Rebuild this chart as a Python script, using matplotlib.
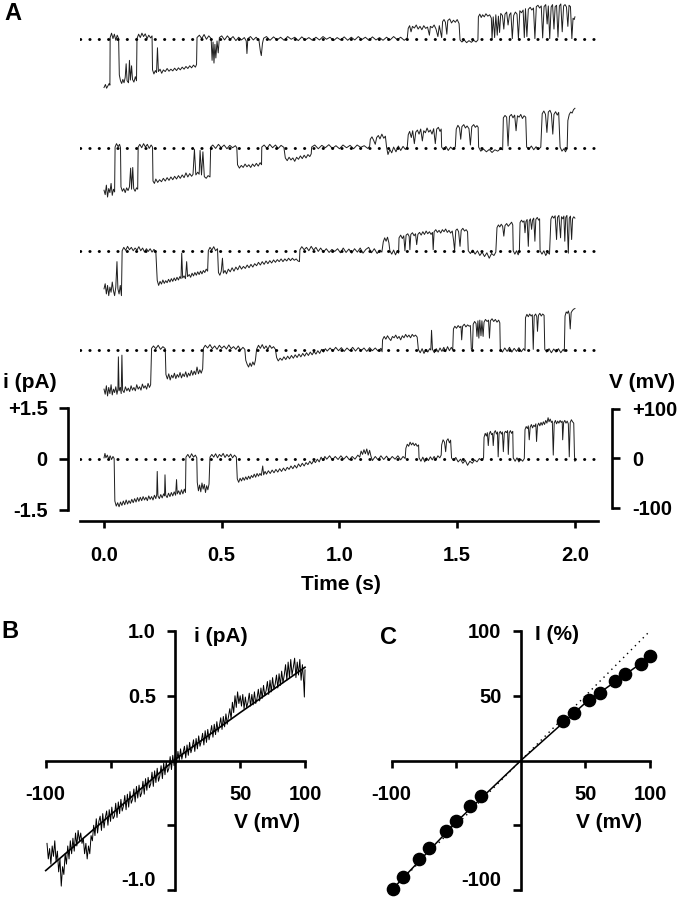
import numpy as np
import matplotlib.pyplot as plt

plt.rcParams['font.family'] = ['Liberation Sans', 'DejaVu Sans']
plt.rcParams['font.weight'] = 'bold'
plt.rcParams['font.size'] = 14.5

# ---- panel A: five single-channel records during a ramp (time s, current pA)
trace1 = [(0.000,-1.42),(0.006,-1.33),(0.011,-1.44),(0.017,-1.36),(0.022,-1.30),(0.025,-1.35),(0.026,0.05),
          (0.032,0.18),(0.038,0.02),(0.044,0.15),(0.050,-0.03),(0.056,0.12),(0.062,0.02),
          (0.065,-1.05),(0.070,-1.22),(0.075,-1.30),(0.080,-1.18),(0.085,-1.28),(0.090,-1.12),(0.094,-0.72),(0.098,-1.22),
          (0.104,-1.28),(0.108,-0.62),(0.112,-1.20),(0.117,-0.78),(0.121,-1.18),(0.127,-1.26),(0.133,-1.10),(0.138,-1.22),(0.140,0.02),
          (0.147,0.15),(0.154,0.05),(0.161,0.18),(0.168,0.08),(0.175,0.16),(0.183,0.02),(0.190,0.12),(0.198,0.04),(0.204,0.10),
          (0.206,-0.90),(0.212,-1.02),(0.218,-0.92),(0.223,-0.98),(0.227,-0.25),(0.231,-0.95),(0.238,-0.88),(0.245,-1.00),
          (0.252,-0.90),(0.260,-0.95),(0.268,-0.86),(0.276,-0.94),(0.284,-0.88),(0.292,-0.93),(0.300,-0.85),(0.308,-0.92),
          (0.316,-0.84),(0.324,-0.90),(0.332,-0.82),(0.340,-0.88),(0.348,-0.80),(0.356,-0.86),(0.364,-0.78),(0.372,-0.84),
          (0.380,-0.76),(0.388,-0.82),(0.393,-0.74),(0.395,0.05),
          (0.405,0.12),(0.415,0.02),(0.425,0.14),(0.435,0.00),(0.445,0.10),(0.455,0.02),
          (0.459,-0.62),(0.463,-0.08),(0.467,-0.70),(0.471,-0.15),(0.475,-0.55),(0.480,-0.05),(0.485,-0.40),(0.490,0.05),
          (0.500,0.10),(0.512,-0.02),(0.524,0.10),(0.536,0.00),(0.548,0.08),(0.560,-0.04),(0.572,0.06),(0.584,-0.02),
          (0.596,0.05),(0.604,-0.05),(0.607,-0.42),(0.611,0.02),
          (0.622,0.08),(0.634,-0.02),(0.646,0.06),(0.658,-0.03),(0.664,-0.35),(0.668,-0.48),(0.673,-0.12),(0.678,0.03),
          (0.690,0.08),(0.705,-0.03),(0.720,0.07),(0.735,-0.02),(0.750,0.06),(0.765,-0.03),(0.780,0.08),(0.795,0.00),
          (0.810,0.06),(0.825,-0.04),(0.840,0.07),(0.855,-0.02),(0.870,0.05),(0.885,-0.03),(0.900,0.06),(0.915,-0.02),
          (0.930,0.08),(0.945,0.00),(0.960,0.06),(0.975,-0.04),(0.990,0.05),(1.005,-0.02),(1.020,0.07),(1.035,-0.03),
          (1.050,0.06),(1.065,-0.02),(1.080,0.08),(1.095,-0.01),(1.110,0.06),(1.125,-0.03),(1.140,0.07),(1.155,-0.02),
          (1.170,0.05),(1.185,-0.03),(1.200,0.06),(1.215,-0.02),(1.230,0.08),(1.245,-0.01),(1.260,0.06),(1.275,-0.03),(1.288,0.04),
          (1.292,0.32),(1.298,0.40),(1.304,0.22),(1.310,0.38),(1.318,0.33),(1.326,0.42),(1.334,0.30),(1.342,0.38),
          (1.350,0.28),(1.358,0.40),(1.366,0.32),(1.374,0.36),(1.382,0.12),(1.386,0.38),(1.394,0.34),(1.402,0.42),
          (1.410,0.30),(1.418,0.08),(1.424,0.40),(1.430,0.18),(1.434,0.05),
          (1.438,0.52),(1.444,0.58),(1.450,0.50),(1.456,0.15),(1.460,0.55),(1.468,0.60),(1.476,0.48),(1.484,0.56),
          (1.492,0.50),(1.500,0.58),(1.508,0.46),(1.512,-0.02),
          (1.520,-0.08),(1.530,-0.02),(1.540,-0.10),(1.550,-0.04),(1.560,-0.09),(1.570,-0.03),(1.580,-0.08),(1.588,-0.02),
          (1.590,0.66),(1.596,0.74),(1.602,0.64),(1.608,0.72),(1.615,0.66),(1.622,0.75),(1.630,0.68),(1.638,0.72),
          (1.645,0.62),(1.648,0.02),(1.653,0.66),(1.659,0.05),(1.664,0.72),(1.670,0.12),(1.675,0.68),(1.680,0.20),
          (1.685,0.76),(1.692,0.70),(1.698,0.30),(1.703,0.74),(1.710,0.80),(1.716,0.42),(1.722,0.72),(1.728,0.78),
          (1.734,0.02),(1.740,0.70),(1.747,0.80),(1.754,0.74),(1.760,0.02),(1.766,0.84),(1.773,0.78),(1.780,0.86),
          (1.785,0.05),(1.790,0.90),(1.796,0.08),(1.802,0.88),(1.810,0.94),(1.817,0.86),(1.824,0.92),(1.830,0.02),
          (1.836,0.96),(1.843,1.00),(1.850,0.92),(1.857,0.98),(1.863,0.04),(1.869,0.96),(1.876,1.02),(1.882,0.45),
          (1.887,0.98),(1.893,0.02),(1.899,0.95),(1.905,1.02),(1.911,0.30),(1.916,0.96),(1.922,1.00),(1.928,0.06),
          (1.934,0.98),(1.940,1.04),(1.946,0.22),(1.952,0.98),(1.958,1.02),(1.964,0.95),(1.970,0.38),(1.975,1.00),
          (1.981,0.96),(1.987,0.02),(1.992,0.62),(1.997,0.58),(2.000,0.66)]

trace2 = [(0.000,-1.25),(0.005,-1.38),(0.010,-1.10),(0.015,-1.45),(0.020,-1.20),(0.025,-1.32),(0.030,-1.05),
          (0.035,-1.40),(0.040,-1.22),(0.045,-1.30),(0.047,0.02),
          (0.053,0.12),(0.060,0.03),(0.066,0.10),(0.070,0.00),
          (0.072,-1.15),(0.078,-1.28),(0.084,-1.20),(0.090,-1.32),(0.096,-1.18),(0.102,-1.26),(0.108,-1.15),(0.113,-0.60),
          (0.117,-1.22),(0.122,-0.58),(0.126,-1.20),(0.132,-1.28),(0.138,-1.18),(0.143,-1.22),(0.145,0.02),
          (0.152,0.10),(0.160,0.00),(0.168,0.12),(0.176,0.02),(0.184,0.10),(0.192,-0.02),(0.200,0.08),(0.206,0.02),
          (0.208,-0.98),(0.214,-1.05),(0.220,-0.92),(0.228,-1.02),(0.236,-0.94),(0.244,-1.00),(0.252,-0.90),(0.260,-0.98),
          (0.268,-0.88),(0.276,-0.96),(0.284,-0.86),(0.292,-0.94),(0.300,-0.84),(0.308,-0.92),(0.316,-0.82),(0.324,-0.90),
          (0.332,-0.80),(0.340,-0.88),(0.348,-0.74),(0.356,-0.86),(0.364,-0.76),(0.372,-0.84),(0.378,-0.78),(0.384,-0.05),
          (0.390,-0.80),(0.398,-0.72),(0.404,-0.78),(0.408,-0.08),(0.414,-0.80),(0.420,-0.12),(0.426,-0.85),(0.434,-0.90),
          (0.442,-0.82),(0.450,-0.86),(0.453,0.02),
          (0.462,0.08),(0.474,-0.02),(0.486,0.10),(0.498,0.00),(0.510,0.08),(0.522,-0.03),(0.534,0.07),(0.546,0.00),
          (0.558,0.06),(0.564,0.00),
          (0.567,-0.50),(0.575,-0.60),(0.583,-0.52),(0.591,-0.58),(0.599,-0.48),(0.607,-0.56),(0.615,-0.50),(0.623,-0.58),
          (0.631,-0.48),(0.639,-0.55),(0.647,-0.46),(0.655,-0.54),(0.663,-0.44),(0.669,-0.50),(0.670,0.02),
          (0.680,0.08),(0.692,-0.02),(0.704,0.10),(0.716,0.00),(0.728,0.08),(0.740,-0.02),(0.752,0.07),(0.764,0.01),
          (0.770,-0.30),(0.778,-0.38),(0.786,-0.28),(0.794,-0.36),(0.802,-0.30),(0.810,-0.40),(0.818,-0.28),(0.826,-0.34),
          (0.834,-0.24),(0.842,-0.32),(0.850,-0.22),(0.858,-0.30),(0.866,-0.20),(0.874,-0.26),(0.880,-0.18),(0.882,0.02),
          (0.895,0.08),(0.910,-0.03),(0.925,0.07),(0.940,0.00),(0.955,0.09),(0.970,-0.02),(0.985,0.06),(1.000,-0.03),
          (1.015,0.08),(1.030,0.00),(1.045,0.07),(1.060,-0.03),(1.075,0.08),(1.090,0.01),(1.105,0.06),(1.120,-0.02),(1.128,0.04),
          (1.131,0.25),(1.138,0.32),(1.145,0.22),(1.152,0.10),(1.158,0.30),(1.165,0.36),(1.172,0.26),(1.180,0.40),
          (1.188,0.28),(1.195,0.34),(1.200,0.02),
          (1.206,-0.20),(1.214,-0.05),(1.222,-0.15),(1.230,0.02),(1.240,-0.12),(1.250,0.05),(1.260,-0.08),(1.270,0.04),
          (1.280,-0.05),(1.288,0.03),
          (1.292,0.38),(1.298,0.48),(1.305,0.30),(1.311,0.50),(1.318,0.12),(1.324,0.46),(1.331,0.52),(1.338,0.40),
          (1.345,0.55),(1.352,0.20),(1.358,0.50),(1.365,0.44),(1.372,0.58),(1.379,0.46),(1.386,0.52),(1.393,0.40),
          (1.400,0.56),(1.407,0.12),(1.413,0.55),(1.420,0.60),(1.427,0.48),(1.432,0.55),(1.434,0.02),
          (1.442,-0.06),(1.452,0.04),(1.462,-0.08),(1.472,0.02),(1.482,-0.05),(1.492,0.03),
          (1.496,0.55),(1.503,0.66),(1.510,0.58),(1.515,0.25),(1.520,0.62),(1.528,0.68),(1.535,0.58),(1.542,0.64),
          (1.550,0.56),(1.556,0.08),(1.562,0.62),(1.570,0.68),(1.577,0.60),(1.584,0.65),(1.589,0.60),(1.591,0.02),
          (1.600,-0.10),(1.612,-0.04),(1.624,-0.12),(1.636,-0.05),(1.648,-0.14),(1.660,-0.06),(1.672,-0.10),(1.684,-0.03),(1.693,-0.06),
          (1.696,0.88),(1.703,0.95),(1.710,0.90),(1.716,0.05),(1.722,0.92),(1.730,0.98),(1.737,0.88),(1.744,0.96),
          (1.750,0.50),(1.756,0.94),(1.763,0.90),(1.770,0.98),(1.777,0.86),(1.784,0.94),(1.791,0.90),(1.795,0.02),
          (1.805,-0.04),(1.815,0.05),(1.825,-0.06),(1.835,0.03),(1.845,-0.05),(1.855,0.02),
          (1.861,1.00),(1.868,1.08),(1.875,0.98),(1.881,0.45),(1.887,1.05),(1.894,1.10),(1.900,1.00),(1.906,0.40),
          (1.911,0.98),(1.918,1.06),(1.925,0.96),(1.931,1.04),(1.937,0.02),
          (1.945,-0.10),(1.953,-0.03),(1.960,-0.12),(1.967,-0.02),
          (1.970,0.80),(1.976,0.98),(1.982,1.05),(1.988,1.02),(1.994,1.12),(2.000,1.16)]

trace3 = [(0.000,-1.10),(0.005,-0.95),(0.010,-1.25),(0.015,-1.00),(0.020,-1.30),(0.025,-1.05),(0.030,-1.20),
          (0.035,-0.90),(0.040,-1.15),(0.045,-1.30),(0.050,-1.05),(0.055,-0.30),(0.059,-1.10),(0.064,-1.25),
          (0.069,-1.00),(0.074,-1.30),(0.077,0.02),
          (0.084,0.12),(0.092,0.03),(0.100,0.15),(0.108,0.05),(0.116,0.12),(0.124,0.02),(0.132,0.10),(0.140,0.04),
          (0.148,0.14),(0.156,0.02),(0.164,0.10),(0.172,-0.02),(0.180,0.08),(0.188,0.00),(0.196,0.08),(0.204,-0.02),
          (0.212,0.06),(0.220,0.00),
          (0.226,-0.85),(0.232,-1.00),(0.238,-0.88),(0.244,-0.96),(0.250,-0.84),(0.256,-0.94),(0.262,-0.86),(0.268,-0.92),
          (0.274,-0.82),(0.280,-0.90),(0.286,-0.80),(0.292,-0.88),(0.298,-0.78),(0.304,-0.86),(0.310,-0.76),(0.316,-0.84),
          (0.322,-0.74),(0.327,-0.80),(0.330,-0.05),(0.334,-0.78),(0.340,-0.72),(0.346,-0.80),(0.351,-0.30),(0.355,-0.74),
          (0.362,-0.68),(0.368,-0.76),(0.374,-0.64),(0.380,-0.72),(0.386,-0.62),(0.392,-0.70),(0.398,-0.60),(0.404,-0.68),
          (0.410,-0.58),(0.416,-0.66),(0.422,-0.56),(0.428,-0.62),(0.434,-0.52),(0.440,-0.58),(0.443,0.02),
          (0.450,0.12),(0.458,0.04),(0.466,0.14),(0.474,0.02),(0.482,0.08),
          (0.486,-0.62),(0.492,-0.70),(0.498,-0.58),(0.503,-0.20),(0.507,-0.64),(0.514,-0.56),(0.520,-0.66),(0.528,-0.52),
          (0.536,-0.60),(0.544,-0.48),(0.552,-0.58),(0.560,-0.46),(0.568,-0.54),(0.576,-0.42),(0.584,-0.52),(0.592,-0.44),
          (0.600,-0.50),(0.608,-0.40),(0.616,-0.48),(0.624,-0.38),(0.632,-0.46),(0.640,-0.36),(0.648,-0.42),(0.656,-0.32),
          (0.664,-0.40),(0.672,-0.30),(0.680,-0.38),(0.688,-0.28),(0.696,-0.36),(0.704,-0.27),(0.712,-0.34),(0.720,-0.25),
          (0.728,-0.32),(0.736,-0.24),(0.744,-0.30),(0.752,-0.22),(0.760,-0.30),(0.768,-0.22),(0.776,-0.28),(0.784,-0.20),
          (0.792,-0.27),(0.800,-0.20),(0.808,-0.26),(0.816,-0.22),(0.824,-0.28),(0.830,-0.30),(0.832,0.05),
          (0.840,0.14),(0.850,0.05),(0.860,0.12),(0.870,0.02),(0.880,0.15),(0.890,0.04),(0.900,0.12),(0.910,0.00),
          (0.920,0.10),(0.932,-0.02),(0.944,0.08),(0.956,-0.03),(0.968,0.06),(0.980,0.00),(0.992,0.08),(1.004,-0.04),
          (1.016,0.10),(1.028,-0.03),(1.040,0.07),(1.052,-0.05),(1.064,0.08),(1.076,-0.02),(1.088,0.10),(1.100,-0.05),
          (1.112,0.06),(1.124,0.12),(1.136,-0.04),(1.148,0.08),(1.160,-0.06),(1.172,0.04),(1.180,-0.02),
          (1.186,0.28),(1.192,0.40),(1.198,0.30),(1.204,0.42),(1.210,0.25),(1.214,0.02),
          (1.222,-0.08),(1.230,0.04),(1.238,-0.10),(1.246,0.02),(1.251,-0.05),
          (1.253,0.40),(1.260,0.48),(1.267,0.38),(1.273,0.46),(1.278,0.02),(1.283,0.48),(1.290,0.52),(1.296,0.44),
          (1.299,0.05),(1.303,0.50),(1.310,0.55),(1.317,0.46),(1.323,0.52),(1.328,0.20),(1.333,0.50),(1.340,0.56),
          (1.347,0.48),(1.354,0.58),(1.361,0.50),(1.368,0.60),(1.375,0.52),(1.382,0.58),(1.389,0.50),(1.395,0.56),
          (1.398,0.05),(1.402,0.58),(1.409,0.64),(1.416,0.56),(1.423,0.62),(1.430,0.54),(1.437,0.64),(1.444,0.58),
          (1.451,0.66),(1.458,0.56),(1.465,0.62),(1.472,0.54),(1.479,0.60),(1.485,0.30),(1.489,0.02),(1.494,0.62),
          (1.500,0.66),(1.506,0.58),(1.512,0.15),(1.517,0.62),(1.524,0.68),(1.531,0.60),(1.538,0.64),(1.544,0.58),(1.547,0.02),
          (1.556,-0.06),(1.566,0.04),(1.576,-0.08),(1.586,0.02),(1.596,-0.12),(1.606,-0.02),(1.616,-0.15),(1.626,-0.04),
          (1.636,-0.20),(1.646,-0.06),(1.656,-0.12),(1.664,-0.02),
          (1.669,0.70),(1.675,0.78),(1.681,0.72),(1.687,0.80),(1.693,0.74),(1.698,0.45),(1.703,0.76),(1.710,0.82),
          (1.717,0.74),(1.724,0.80),(1.731,0.86),(1.736,0.78),(1.738,0.02),
          (1.745,-0.08),(1.752,0.02),(1.759,-0.10),(1.764,0.00),
          (1.767,0.85),(1.773,0.92),(1.779,0.86),(1.784,0.90),(1.788,0.55),(1.792,0.88),(1.797,0.94),(1.802,0.15),
          (1.806,0.90),(1.811,0.96),(1.816,0.65),(1.820,0.92),(1.825,0.98),(1.830,0.30),(1.834,0.94),(1.840,1.00),
          (1.846,0.92),(1.850,0.96),(1.852,0.02),
          (1.860,-0.08),(1.868,0.02),(1.876,-0.12),(1.884,-0.02),(1.892,-0.08),
          (1.898,0.95),(1.904,1.04),(1.910,0.98),(1.916,1.05),(1.922,0.35),(1.926,1.00),(1.932,1.06),(1.939,0.40),
          (1.943,1.02),(1.949,0.96),(1.953,1.04),(1.957,0.30),(1.961,1.00),(1.966,1.06),(1.972,-0.05),(1.976,0.98),
          (1.981,1.04),(1.986,0.35),(1.990,0.96),(1.995,1.02),(2.000,0.98)]

trace4 = [(0.000,-1.15),(0.005,-1.30),(0.010,-1.05),(0.015,-1.35),(0.020,-1.10),(0.025,-1.28),(0.030,-1.02),
          (0.035,-1.32),(0.040,-1.15),(0.045,-1.25),(0.050,-1.08),(0.055,-1.30),(0.059,-1.15),(0.061,-0.20),
          (0.064,-1.20),(0.069,-1.10),(0.073,-1.28),(0.076,-0.15),(0.079,-1.18),(0.085,-1.25),(0.091,-1.08),
          (0.097,-1.20),(0.103,-1.12),(0.109,-1.22),(0.115,-1.05),(0.121,-1.18),(0.127,-1.10),(0.133,-1.20),
          (0.139,-1.02),(0.145,-1.15),(0.151,-1.08),(0.157,-1.18),(0.163,-1.00),(0.169,-1.12),(0.175,-1.05),
          (0.181,-1.15),(0.187,-0.98),(0.193,-1.10),(0.198,-1.02),(0.202,0.05),
          (0.210,0.12),(0.220,0.04),(0.230,0.14),(0.240,0.02),(0.250,0.10),(0.260,0.04),
          (0.263,-0.72),(0.269,-0.85),(0.275,-0.70),(0.281,-0.88),(0.287,-0.74),(0.293,-0.82),(0.299,-0.68),(0.305,-0.84),
          (0.311,-0.72),(0.317,-0.80),(0.323,-0.66),(0.329,-0.82),(0.335,-0.70),(0.341,-0.78),(0.347,-0.64),(0.353,-0.80),
          (0.359,-0.68),(0.365,-0.76),(0.371,-0.60),(0.377,-0.74),(0.383,-0.62),(0.389,-0.72),(0.395,-0.50),(0.401,-0.70),
          (0.407,-0.58),(0.413,-0.68),(0.419,-0.55),(0.422,0.05),
          (0.430,0.14),(0.440,0.06),(0.450,0.16),(0.460,0.04),(0.470,0.12),(0.480,0.02),(0.490,0.14),(0.500,0.05),
          (0.510,0.12),(0.520,0.03),(0.530,0.15),(0.540,0.04),(0.550,0.10),(0.560,0.02),(0.570,0.12),(0.580,0.00),
          (0.590,0.08),(0.598,0.02),
          (0.602,-0.30),(0.608,-0.42),(0.614,-0.50),(0.620,-0.38),(0.626,-0.48),(0.632,-0.35),(0.638,-0.44),(0.643,-0.30),(0.648,0.02),
          (0.656,0.14),(0.664,0.05),(0.672,0.16),(0.680,0.04),(0.688,0.12),(0.696,0.02),(0.704,0.14),(0.712,0.05),
          (0.720,0.10),(0.728,0.02),
          (0.733,-0.22),(0.740,-0.32),(0.748,-0.24),(0.756,-0.30),(0.764,-0.20),(0.772,-0.28),(0.780,-0.18),(0.788,-0.26),
          (0.796,-0.16),(0.804,-0.24),(0.812,-0.14),(0.820,-0.22),(0.828,-0.12),(0.836,-0.20),(0.844,-0.10),(0.852,-0.18),
          (0.860,-0.08),(0.868,-0.16),(0.876,-0.06),(0.884,-0.14),(0.892,-0.04),(0.900,-0.12),(0.908,-0.02),(0.916,-0.10),
          (0.924,0.02),(0.932,-0.06),(0.940,0.04),(0.948,-0.03),
          (0.960,0.06),(0.972,-0.03),(0.984,0.08),(0.996,-0.02),(1.008,0.07),(1.020,-0.04),(1.032,0.06),(1.044,-0.02),
          (1.056,0.08),(1.068,-0.03),(1.080,0.07),(1.092,-0.02),(1.104,0.06),(1.116,-0.04),(1.128,0.07),(1.140,-0.02),
          (1.152,0.06),(1.164,-0.03),(1.176,0.05),(1.181,-0.05),
          (1.183,0.30),(1.190,0.40),(1.197,0.32),(1.204,0.42),(1.211,0.34),(1.218,0.28),(1.225,0.40),(1.232,0.36),
          (1.239,0.44),(1.246,0.34),(1.253,0.40),(1.260,0.30),(1.267,0.42),(1.274,0.36),(1.281,0.46),(1.288,0.38),
          (1.295,0.44),(1.302,0.36),(1.309,0.46),(1.316,0.40),(1.323,0.44),(1.330,0.38),(1.335,0.02),
          (1.343,-0.08),(1.351,0.04),(1.359,-0.10),(1.367,0.02),(1.375,-0.06),(1.383,0.04),(1.388,0.00),(1.391,0.58),
          (1.395,0.02),(1.403,-0.08),(1.411,0.04),(1.419,-0.06),(1.427,0.06),(1.435,-0.04),(1.443,0.08),(1.451,-0.05),
          (1.459,0.10),(1.467,-0.02),(1.475,0.08),(1.481,0.00),
          (1.484,0.62),(1.490,0.70),(1.497,0.64),(1.504,0.72),(1.511,0.66),(1.516,0.70),(1.519,0.30),(1.523,0.70),
          (1.530,0.76),(1.537,0.68),(1.544,0.74),(1.551,0.70),(1.556,0.72),(1.560,0.02),(1.565,0.05),(1.568,0.76),
          (1.574,0.84),(1.580,0.78),(1.584,0.40),(1.588,0.86),(1.592,0.35),(1.596,0.88),(1.601,0.42),(1.605,0.86),
          (1.610,0.40),(1.614,0.82),(1.620,0.90),(1.627,0.84),(1.633,0.88),(1.637,0.35),(1.641,0.86),(1.648,0.92),
          (1.655,0.84),(1.662,0.90),(1.669,0.82),(1.676,0.88),(1.681,0.80),(1.683,0.02),
          (1.692,-0.06),(1.702,0.06),(1.712,-0.04),(1.722,0.08),(1.732,-0.06),(1.742,0.05),(1.752,-0.04),(1.762,0.07),
          (1.772,-0.05),(1.782,0.04),(1.788,-0.02),
          (1.790,0.95),(1.796,1.05),(1.802,0.98),(1.808,1.06),(1.814,1.00),(1.819,1.04),(1.823,0.02),(1.827,1.00),
          (1.833,1.06),(1.838,0.98),(1.841,0.55),(1.845,1.02),(1.851,1.08),(1.857,1.00),(1.863,1.06),(1.869,1.02),(1.872,0.02),
          (1.880,-0.06),(1.890,0.04),(1.900,-0.08),(1.910,0.03),(1.920,-0.06),(1.930,0.04),(1.940,-0.08),(1.950,0.02),(1.955,-0.04),
          (1.958,1.00),(1.963,1.12),(1.968,1.08),(1.972,1.15),(1.976,1.05),(1.980,0.62),(1.984,1.10),(1.989,1.16),
          (1.994,1.20),(2.000,1.22)]

trace5 = [(0.000,0.02),(0.004,0.15),(0.008,0.02),(0.014,0.10),(0.020,-0.02),(0.026,0.08),(0.032,-0.03),(0.038,0.06),(0.043,0.00),
          (0.046,-1.25),(0.052,-1.40),(0.058,-1.30),(0.064,-1.42),(0.070,-1.28),(0.076,-1.38),(0.082,-1.25),(0.088,-1.36),
          (0.094,-1.22),(0.100,-1.34),(0.106,-1.24),(0.112,-1.32),(0.118,-1.20),(0.124,-1.30),(0.130,-1.18),(0.136,-1.28),
          (0.142,-1.15),(0.148,-1.26),(0.154,-1.14),(0.160,-1.24),(0.166,-1.12),(0.172,-1.22),(0.178,-1.14),(0.184,-1.24),
          (0.190,-1.10),(0.196,-1.20),(0.202,-1.12),(0.208,-1.22),(0.214,-1.08),(0.220,-1.18),(0.224,-1.05),(0.226,-0.38),
          (0.229,-1.10),(0.235,-1.18),(0.241,-1.06),(0.247,-1.16),(0.253,-1.04),(0.257,-1.10),(0.259,-0.48),(0.262,-1.08),
          (0.268,-1.15),(0.274,-1.02),(0.280,-1.12),(0.286,-1.00),(0.292,-1.10),(0.298,-0.98),(0.304,-1.08),(0.308,-0.62),
          (0.311,-1.04),(0.317,-0.95),(0.323,-1.06),(0.329,-0.92),(0.335,-1.04),(0.341,-0.90),(0.346,-1.00),(0.348,0.04),
          (0.356,0.12),(0.364,0.02),(0.372,0.14),(0.380,0.04),(0.388,0.10),(0.394,0.02),
          (0.396,-0.70),(0.401,-0.95),(0.406,-0.78),(0.411,-0.98),(0.416,-0.72),(0.421,-0.90),(0.426,-0.76),(0.431,-1.00),
          (0.436,-0.80),(0.441,-0.92),(0.446,-0.75),(0.450,0.04),
          (0.458,0.12),(0.466,0.04),(0.474,0.14),(0.482,0.02),(0.490,0.12),(0.498,0.06),(0.506,0.15),(0.514,0.03),
          (0.522,0.12),(0.530,0.05),(0.538,0.13),(0.546,0.02),(0.554,0.10),(0.562,0.04),
          (0.566,-0.60),(0.572,-0.70),(0.578,-0.58),(0.584,-0.66),(0.590,-0.56),(0.596,-0.64),(0.602,-0.54),(0.608,-0.62),
          (0.614,-0.52),(0.620,-0.60),(0.626,-0.50),(0.632,-0.56),(0.638,-0.46),(0.644,-0.55),(0.650,-0.44),(0.656,-0.52),
          (0.662,-0.44),(0.668,-0.50),(0.674,-0.22),(0.678,-0.48),(0.684,-0.38),(0.690,-0.46),(0.698,-0.36),(0.706,-0.44),
          (0.714,-0.34),(0.722,-0.42),(0.730,-0.32),(0.738,-0.40),(0.746,-0.30),(0.754,-0.38),(0.762,-0.28),(0.770,-0.36),
          (0.778,-0.26),(0.786,-0.32),(0.794,-0.22),(0.802,-0.30),(0.810,-0.20),(0.818,-0.28),(0.826,-0.16),(0.834,-0.24),
          (0.842,-0.14),(0.850,-0.22),(0.858,-0.12),(0.866,-0.18),(0.874,-0.08),(0.882,-0.16),(0.890,-0.06),(0.898,-0.12),
          (0.906,-0.02),(0.914,-0.10),(0.922,0.04),(0.930,-0.06),(0.938,0.06),(0.946,-0.02),
          (0.958,0.08),(0.970,-0.04),(0.982,0.06),(0.994,-0.03),(1.006,0.08),(1.018,-0.02),(1.030,0.07),(1.042,-0.04),
          (1.054,0.06),(1.066,-0.02),(1.078,0.10),(1.086,0.04),(1.092,0.22),(1.098,0.12),(1.104,0.26),(1.110,0.14),
          (1.116,0.28),(1.122,0.10),(1.128,0.24),(1.134,0.06),(1.140,-0.06),(1.152,0.06),(1.164,-0.04),(1.176,0.08),
          (1.188,-0.03),(1.200,0.07),(1.212,-0.05),(1.224,0.06),(1.236,-0.02),(1.248,0.08),(1.260,-0.04),(1.270,0.06),(1.279,0.00),
          (1.282,0.30),(1.288,0.42),(1.294,0.36),(1.300,0.48),(1.306,0.40),(1.312,0.46),(1.318,0.38),(1.324,0.44),
          (1.330,0.36),(1.336,0.40),(1.338,0.02),
          (1.346,-0.08),(1.354,0.04),(1.362,-0.10),(1.370,0.02),(1.378,-0.06),(1.386,0.05),(1.394,-0.04),(1.402,0.06),
          (1.410,-0.03),(1.418,0.08),(1.426,0.02),(1.432,0.10),
          (1.434,0.40),(1.440,0.55),(1.446,0.48),(1.451,0.20),(1.455,0.52),(1.461,0.58),(1.467,0.46),(1.472,0.54),(1.476,0.02),
          (1.484,-0.06),(1.494,0.03),(1.504,-0.10),(1.514,-0.02),(1.524,-0.14),(1.534,-0.05),(1.544,-0.20),(1.554,-0.08),
          (1.564,-0.14),(1.574,-0.04),(1.584,-0.10),(1.594,0.00),(1.604,-0.06),(1.612,0.02),
          (1.614,0.62),(1.619,0.74),(1.624,0.66),(1.628,0.76),(1.632,0.38),(1.636,0.72),(1.641,0.80),(1.646,0.70),
          (1.650,0.74),(1.653,0.38),(1.657,0.76),(1.662,0.82),(1.667,0.72),(1.671,0.78),(1.674,0.05),(1.678,0.74),
          (1.683,0.80),(1.688,0.72),(1.692,0.78),(1.696,0.20),(1.700,0.74),(1.705,0.80),(1.710,0.76),(1.714,0.82),
          (1.717,0.12),(1.721,0.76),(1.726,0.82),(1.731,0.74),(1.736,0.80),(1.738,0.02),
          (1.746,-0.08),(1.754,0.02),(1.762,-0.10),(1.770,-0.02),(1.778,-0.08),(1.785,0.00),
          (1.788,0.85),(1.793,0.94),(1.798,0.88),(1.802,0.96),(1.806,0.55),(1.810,0.92),(1.815,1.00),(1.820,0.90),
          (1.825,0.98),(1.830,0.94),(1.834,1.02),(1.837,0.50),(1.841,0.96),(1.846,1.04),(1.851,0.96),(1.856,1.06),
          (1.861,0.98),(1.866,1.08),(1.871,1.00),(1.876,1.12),(1.881,1.04),(1.886,1.20),(1.890,1.08),(1.895,1.16),
          (1.900,1.06),(1.904,1.10),(1.908,0.10),(1.912,1.04),(1.917,1.12),(1.922,1.02),(1.927,1.10),(1.932,1.04),
          (1.937,1.12),(1.942,1.06),(1.946,1.10),(1.948,0.55),(1.952,1.06),(1.957,1.12),(1.962,1.04),(1.967,1.10),
          (1.972,1.02),(1.976,0.05),(1.980,1.06),(1.985,1.14),(1.990,1.08),(1.995,1.04),(1.998,0.10),(2.000,-0.08)]

traces = [trace1, trace2, trace3, trace4, trace5]
offsets = [12.33, 9.14, 6.09, 3.19, 0.0]        # vertical stacking of the records, pA
baseline_span = (-0.10, 2.09)
time_ticks = [0.0, 0.5, 1.0, 1.5, 2.0]
i_bar = [-1.5, 0, 1.5]
i_bar_labels = ['-1.5', '0', '+1.5']
v_bar = [-100, 0, 100]
v_bar_labels = ['-100', '0', '+100']

# ---- panel B: unitary i-V from the ramp (mV, pA)
iv_trace = [(-99,-0.64),(-98,-0.76),(-97,-0.68),(-96,-0.80),(-95,-0.66),(-94,-0.74),(-93,-0.62),(-92,-0.78),(-91,-0.70),(-90,-0.86),
            (-89,-0.76),(-88,-0.97),(-87,-0.82),(-86,-0.88),(-85,-0.72),(-84,-0.80),(-83,-0.66),(-82,-0.76),(-81,-0.62),(-80,-0.72),
            (-79,-0.60),(-78,-0.70),(-77,-0.56),(-76,-0.66),(-75,-0.54),(-74,-0.62),(-73,-0.56),(-72,-0.64),(-71,-0.60),(-70,-0.72),
            (-69,-0.64),(-68,-0.76),(-67,-0.66),(-66,-0.72),(-65,-0.58),(-64,-0.62),(-63,-0.50),
            (-62,-0.58),(-61,-0.45),(-60,-0.56),(-59,-0.47),(-58,-0.43),(-57,-0.54),(-56,-0.41),(-55,-0.52),(-54,-0.44),(-53,-0.39),
            (-52,-0.50),(-51,-0.38),(-50,-0.47),(-49,-0.36),(-48,-0.45),(-47,-0.43),(-46,-0.33),(-45,-0.44),(-44,-0.32),(-43,-0.41),
            (-42,-0.30),(-41,-0.39),(-40,-0.35),(-39,-0.27),(-38,-0.38),(-37,-0.26),(-36,-0.36),(-35,-0.24),(-34,-0.33),(-33,-0.30),
            (-32,-0.22),(-31,-0.32),(-30,-0.20),(-29,-0.29),(-28,-0.19),(-27,-0.28),(-26,-0.25),(-25,-0.16),(-24,-0.26),(-23,-0.14),
            (-22,-0.23),(-21,-0.13),(-20,-0.21),(-19,-0.18),(-18,-0.09),(-17,-0.20),(-16,-0.08),(-15,-0.17),(-14,-0.06),(-13,-0.16),
            (-12,-0.12),(-11,-0.04),(-10,-0.14),(-9,-0.02),(-8,-0.11),(-7,-0.01),(-6,-0.09),(-5,-0.06),(-4,0.03),(-3,-0.07),
            (-2,0.04),(-1,-0.04),(0,0.05),(1,-0.02),(2,0.07),(3,0.00),(4,0.09),(5,0.01),(6,0.06),(7,0.11),
            (8,0.02),(9,0.12),(10,0.04),(11,0.14),(12,0.06),(13,0.10),(14,0.16),(15,0.07),(16,0.17),(17,0.09),
            (18,0.19),(19,0.11),(20,0.15),(21,0.21),(22,0.12),(23,0.23),(24,0.14),(25,0.24),(26,0.16),(27,0.21),
            (28,0.27),(29,0.18),(30,0.28),(31,0.20),(32,0.30),(33,0.22),(34,0.27),(35,0.33),(36,0.24),(37,0.34),
            (38,0.26),(39,0.36),(40,0.28),(41,0.34),(42,0.40),(43,0.32),(44,0.45),(45,0.37),(46,0.50),(47,0.41),
            (48,0.53),(49,0.44),(50,0.50),(51,0.42),(52,0.51),(53,0.40),(54,0.49),(55,0.41),(56,0.45),(57,0.52),
            (58,0.42),(59,0.51),(60,0.43),(61,0.53),(62,0.44),(63,0.48),(64,0.55),(65,0.46),(66,0.56),(67,0.48),
            (68,0.58),(69,0.50),(70,0.54),(71,0.61),(72,0.51),(73,0.62),(74,0.53),(75,0.64),(76,0.55),(77,0.59),
            (78,0.66),(79,0.56),(80,0.67),(81,0.58),(82,0.69),(83,0.60),(84,0.66),(85,0.74),(86,0.62),(87,0.76),
            (88,0.64),(89,0.78),(90,0.66),(91,0.72),(92,0.79),(93,0.64),(94,0.76),(95,0.66),(96,0.78),(97,0.62),
            (98,0.74),(99,0.60),(99.5,0.49),(100,0.70)]
iv_fit_v = [-100, -50, 0, 50, 100]
iv_fit_i = [-0.85, -0.42, 0.01, 0.37, 0.72]

# ---- panel C: normalised current (%) vs voltage
c_v = [-99, -91, -79, -71, -58, -50, -39, -31, 33, 41, 53, 61, 73, 81, 93, 100]
c_i = [-99.5, -89.7, -76.2, -67.7, -54.3, -47.0, -34.9, -27.1, 30.5, 37.0, 46.5, 52.5, 61.2, 66.7, 74.9, 80.4]
c_fit_v = [-100, -50, 0, 50, 100]
c_fit_i = [-100, -47.5, 0, 44.5, 80]
c_unity = [-100, 100]

W, H = 681, 899
fig = plt.figure(figsize=(W / 100, H / 100), dpi=100)

def fx(px):
    return px / W

def fy(py):
    return 1 - py / H

lw_ax = 1.9
ink = '#1e1e1e'

# ---------------- panel A
axA = fig.add_axes([fx(80), fy(521), fx(518), 516 / H])
axA.set_xlim(-0.102, 2.098)
axA.set_ylim(-1.838, 13.338)
for tr, off in zip(traces, offsets):
    t, i = np.array(tr).T
    axA.plot(t, i + off, color=ink, lw=0.7, clip_on=False)
    axA.plot(baseline_span, [off, off], color='black', lw=2.1,
             linestyle=(0, (0.1, 3.1)), dash_capstyle='round')
for s in ['top', 'right']:
    axA.spines[s].set_visible(False)
axA.spines['left'].set_position(('axes', (68 - 80) / 518))
axA.spines['left'].set_bounds(-1.5, 1.5)
axA.spines['left'].set_linewidth(lw_ax)
axA.spines['bottom'].set_linewidth(lw_ax)
axA.set_yticks(i_bar, i_bar_labels)
axA.set_xticks(time_ticks, [f'{v:.1f}' for v in time_ticks])
axA.tick_params(axis='x', length=5, width=lw_ax, pad=13)
axA.tick_params(axis='y', length=6.5, width=lw_ax, pad=8)

axV = axA.twinx()
axV.set_ylim(-126.3, 916.1)
for s in ['top', 'left', 'bottom']:
    axV.spines[s].set_visible(False)
axV.spines['right'].set_position(('axes', (611.7 - 80) / 518))
axV.spines['right'].set_bounds(-100, 100)
axV.spines['right'].set_linewidth(lw_ax)
axV.set_yticks(v_bar, v_bar_labels)
axV.tick_params(axis='y', length=6, width=lw_ax, pad=9)

fig.text(fx(4), fy(14), 'A', fontsize=17, va='center', ha='left')
fig.text(fx(3), fy(383), 'i (pA)', fontsize=15, va='center', ha='left')
fig.text(fx(609), fy(382), 'V (mV)', fontsize=15, va='center', ha='left')
fig.text(fx(341), fy(585), 'Time (s)', fontsize=15, va='center', ha='center')

# ---------------- panels B and C
def iv_axes(left, right):
    ax = fig.add_axes([fx(left), fy(890), fx(right - left), 259 / H])
    for s in ['top', 'right']:
        ax.spines[s].set_visible(False)
    for s in ['left', 'bottom']:
        ax.spines[s].set_position(('data', 0))
        ax.spines[s].set_linewidth(lw_ax)
    ax.patch.set_visible(False)
    ax.tick_params(axis='x', length=5, width=lw_ax, pad=13)
    ax.tick_params(axis='y', length=6, width=lw_ax, pad=8)
    return ax

axB = iv_axes(45.7, 305)
axB.set_xlim(-100, 100)
axB.set_ylim(-1, 1)
bv, bi = np.array(iv_trace).T
axB.plot(bv, bi, color='black', lw=0.7, clip_on=False)
axB.plot(iv_fit_v, iv_fit_i, color='black', lw=1.2, clip_on=False)
axB.set_xticks([-100, -50, 50, 100], ['-100', '', '50', '100'])
axB.set_yticks([-1.0, -0.5, 0.5, 1.0], ['-1.0', '', '0.5', '1.0'])
axB.yaxis.get_major_ticks()[0].label1.set_va('bottom')
fig.text(fx(1), fy(631), 'B', fontsize=17, va='center', ha='left')
fig.text(fx(221), fy(636), 'i (pA)', fontsize=15, va='center', ha='center')
fig.text(fx(267), fy(823), 'V (mV)', fontsize=15, va='center', ha='center')

axC = iv_axes(391.7, 650)
axC.set_xlim(-100, 100)
axC.set_ylim(-100, 100)
axC.plot(c_unity, c_unity, color='black', lw=1.0, linestyle=(0, (1, 3)), clip_on=False)
axC.plot(c_fit_v, c_fit_i, color='black', lw=1.1, clip_on=False)
axC.plot(c_v, c_i, 'o', color='black', ms=8.8, clip_on=False, zorder=5)
axC.set_xticks([-100, -50, 50, 100], ['-100', '', '50', '100'])
axC.set_yticks([-100, -50, 50, 100], ['-100', '', '50', '100'])
axC.yaxis.get_major_ticks()[0].label1.set_va('bottom')
fig.text(fx(380), fy(638), 'C', fontsize=17, va='center', ha='left')
fig.text(fx(557), fy(635), 'I (%)', fontsize=15, va='center', ha='center')
fig.text(fx(609), fy(823), 'V (mV)', fontsize=15, va='center', ha='center')

fig.savefig('out.png', dpi=100)
